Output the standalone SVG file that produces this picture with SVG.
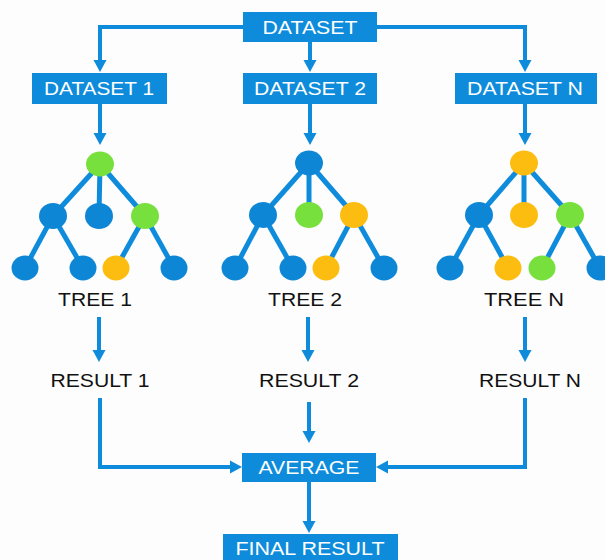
<svg xmlns="http://www.w3.org/2000/svg" width="605" height="560" viewBox="0 0 605 560">
  <style>
    .box { fill: #0e8cdb; }
    .boxtxt { fill: #ffffff; font-family: "Liberation Sans", Arial, sans-serif; font-size: 18.5px; text-anchor: middle; }
    .lbl { fill: #111111; font-family: "Liberation Sans", Arial, sans-serif; font-size: 18.5px; text-anchor: middle; }
    .conn { fill: none; stroke: #0e8cdb; stroke-width: 4; }
    .edge { stroke: #0e8cdb; stroke-width: 5; }
    .blue { fill: #0e86d6; }
    .green { fill: #78e03c; }
    .yellow { fill: #fdbc10; }
  </style>
  <defs>
    <marker id="arrow" markerUnits="userSpaceOnUse" markerWidth="14" markerHeight="14" viewBox="0 -7 14 14" refX="0" refY="0" orient="auto">
      <path d="M0,-6.5 L12,0 L0,6.5 Z" fill="#0e8cdb"/>
    </marker>
  </defs>
  <rect width="605" height="560" fill="#fdfdfd"/>

  <!-- connectors between boxes and labels -->
  <g id="connectors">
    <path class="conn" d="M243,27 H100 V60" marker-end="url(#arrow)"/>
    <path class="conn" d="M310,42 V60" marker-end="url(#arrow)"/>
    <path class="conn" d="M377,27 H525 V60" marker-end="url(#arrow)"/>
    <path class="conn" d="M100,104 V133" marker-end="url(#arrow)"/>
    <path class="conn" d="M310,104 V133" marker-end="url(#arrow)"/>
    <path class="conn" d="M525,104 V133" marker-end="url(#arrow)"/>
    <path class="conn" d="M99,317 V350" marker-end="url(#arrow)"/>
    <path class="conn" d="M308,317 V350" marker-end="url(#arrow)"/>
    <path class="conn" d="M525,317 V350" marker-end="url(#arrow)"/>
    <path class="conn" d="M100,398 V467 H230" marker-end="url(#arrow)"/>
    <path class="conn" d="M309,402 V431" marker-end="url(#arrow)"/>
    <path class="conn" d="M525,398 V467 H388" marker-end="url(#arrow)"/>
    <path class="conn" d="M309,482 V521" marker-end="url(#arrow)"/>
  </g>

  <g id="dataset">
    <rect class="box" x="243" y="12" width="134" height="30"/>
    <text class="boxtxt" x="310" y="34" textLength="95" lengthAdjust="spacingAndGlyphs">DATASET</text>
  </g>
  <g id="dataset-1">
    <rect class="box" x="32" y="73" width="135" height="31"/>
    <text class="boxtxt" x="99" y="95" textLength="110" lengthAdjust="spacingAndGlyphs">DATASET 1</text>
  </g>
  <g id="dataset-2">
    <rect class="box" x="243" y="73" width="134" height="31"/>
    <text class="boxtxt" x="310" y="95" textLength="112" lengthAdjust="spacingAndGlyphs">DATASET 2</text>
  </g>
  <g id="dataset-n">
    <rect class="box" x="455" y="73" width="142" height="31"/>
    <text class="boxtxt" x="525" y="95" textLength="116" lengthAdjust="spacingAndGlyphs">DATASET N</text>
  </g>

  <!-- tree 1 -->
  <g id="tree-1">
    <g class="edge">
      <line x1="100" y1="164" x2="53" y2="216"/>
      <line x1="100" y1="164" x2="99" y2="216"/>
      <line x1="100" y1="164" x2="145" y2="216"/>
      <line x1="53" y1="216" x2="25" y2="268"/>
      <line x1="53" y1="216" x2="83" y2="268"/>
      <line x1="145" y1="216" x2="116" y2="268"/>
      <line x1="145" y1="216" x2="174" y2="268"/>
    </g>
    <ellipse class="green" cx="100" cy="164" rx="14" ry="12.5"/>
    <ellipse class="blue" cx="53" cy="216" rx="14" ry="13"/>
    <ellipse class="blue" cx="99" cy="216" rx="14" ry="13"/>
    <ellipse class="green" cx="145" cy="216" rx="14" ry="13"/>
    <ellipse class="blue" cx="25" cy="268" rx="13.5" ry="12.5"/>
    <ellipse class="blue" cx="83" cy="268" rx="13.5" ry="12.5"/>
    <ellipse class="yellow" cx="116" cy="268" rx="13.5" ry="12.5"/>
    <ellipse class="blue" cx="174" cy="268" rx="13.5" ry="12.5"/>
    <text class="lbl" x="95" y="306" textLength="74" lengthAdjust="spacingAndGlyphs">TREE 1</text>
  </g>

  <!-- tree 2 -->
  <g id="tree-2">
    <g class="edge">
      <line x1="309" y1="163" x2="263" y2="215"/>
      <line x1="309" y1="163" x2="309" y2="215"/>
      <line x1="309" y1="163" x2="354" y2="215"/>
      <line x1="263" y1="215" x2="235" y2="268"/>
      <line x1="263" y1="215" x2="293" y2="268"/>
      <line x1="354" y1="215" x2="326" y2="268"/>
      <line x1="354" y1="215" x2="384" y2="268"/>
    </g>
    <ellipse class="blue" cx="309" cy="163" rx="14" ry="12.5"/>
    <ellipse class="blue" cx="263" cy="215" rx="14" ry="13"/>
    <ellipse class="green" cx="309" cy="215" rx="14" ry="13"/>
    <ellipse class="yellow" cx="354" cy="215" rx="14" ry="13"/>
    <ellipse class="blue" cx="235" cy="268" rx="13.5" ry="12.5"/>
    <ellipse class="blue" cx="293" cy="268" rx="13.5" ry="12.5"/>
    <ellipse class="yellow" cx="326" cy="268" rx="13.5" ry="12.5"/>
    <ellipse class="blue" cx="384" cy="268" rx="13.5" ry="12.5"/>
    <text class="lbl" x="305" y="306" textLength="74" lengthAdjust="spacingAndGlyphs">TREE 2</text>
  </g>

  <!-- tree N -->
  <g id="tree-n">
    <g class="edge">
      <line x1="524" y1="163" x2="479" y2="215"/>
      <line x1="524" y1="163" x2="524" y2="215"/>
      <line x1="524" y1="163" x2="570" y2="215"/>
      <line x1="479" y1="215" x2="450" y2="268"/>
      <line x1="479" y1="215" x2="508" y2="268"/>
      <line x1="570" y1="215" x2="542" y2="268"/>
      <line x1="570" y1="215" x2="600" y2="268"/>
    </g>
    <ellipse class="yellow" cx="524" cy="163" rx="14" ry="12.5"/>
    <ellipse class="blue" cx="479" cy="215" rx="14" ry="13"/>
    <ellipse class="yellow" cx="524" cy="215" rx="14" ry="13"/>
    <ellipse class="green" cx="570" cy="215" rx="14" ry="13"/>
    <ellipse class="blue" cx="450" cy="268" rx="13.5" ry="12.5"/>
    <ellipse class="yellow" cx="508" cy="268" rx="13.5" ry="12.5"/>
    <ellipse class="green" cx="542" cy="268" rx="13.5" ry="12.5"/>
    <ellipse class="blue" cx="600" cy="268" rx="13.5" ry="12.5"/>
    <text class="lbl" x="524" y="306" textLength="80" lengthAdjust="spacingAndGlyphs">TREE N</text>
  </g>

  <g id="result-1">
    <text class="lbl" x="100" y="387" textLength="99" lengthAdjust="spacingAndGlyphs">RESULT 1</text>
  </g>
  <g id="result-2">
    <text class="lbl" x="309" y="387" textLength="100" lengthAdjust="spacingAndGlyphs">RESULT 2</text>
  </g>
  <g id="result-n">
    <text class="lbl" x="530" y="387" textLength="102" lengthAdjust="spacingAndGlyphs">RESULT N</text>
  </g>

  <g id="average">
    <rect class="box" x="242" y="453" width="134" height="29"/>
    <text class="boxtxt" x="309" y="474" textLength="101" lengthAdjust="spacingAndGlyphs">AVERAGE</text>
  </g>
  <g id="final-result">
    <rect class="box" x="223" y="534" width="175" height="30"/>
    <text class="boxtxt" x="310" y="555" textLength="149" lengthAdjust="spacingAndGlyphs">FINAL RESULT</text>
  </g>
</svg>
